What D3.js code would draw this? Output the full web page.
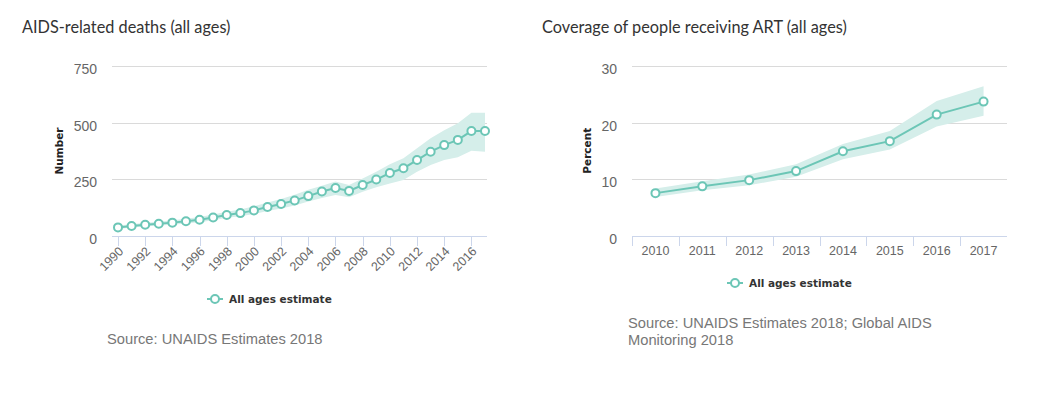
<!DOCTYPE html>
<html>
<head>
  <meta charset="utf-8">
  <title>AIDS-related deaths and ART coverage</title>
  <script src="https://d3js.org/d3.v7.min.js"></script>
  <style>
    body { margin: 0; background: #fff; }
    svg { display: block; }
  </style>
</head>
<body>
  <div id="chart"></div>
  <script type="text/javascript">
    // AIDS-related deaths (all ages)
    var deathYears = [1990, 1991, 1992, 1993, 1994, 1995, 1996, 1997, 1998, 1999,
      2000, 2001, 2002, 2003, 2004, 2005, 2006, 2007, 2008, 2009,
      2010, 2011, 2012, 2013, 2014, 2015, 2016, 2017];
    var deaths = [38, 44, 50, 54, 59, 65, 72, 82, 93, 101,
      113, 128, 141, 157, 176, 196, 212, 199, 225, 249,
      278, 299, 335, 372, 401, 424, 463, 463];
    var deathsLow = [31, 37, 42, 46, 50, 55, 61, 70, 80, 87,
      97, 110, 121, 135, 152, 168, 181, 171, 195, 215,
      232, 247, 284, 313, 335, 347, 376, 372];
    var deathsHigh = [46, 52, 58, 63, 69, 76, 84, 95, 107, 117,
      131, 148, 163, 182, 204, 222, 240, 225, 254, 284,
      316, 343, 387, 431, 467, 497, 544, 544];
    var deathTicks = [0, 250, 500, 750];
    var deathYearTicks = [1990, 1992, 1994, 1996, 1998, 2000, 2002, 2004,
      2006, 2008, 2010, 2012, 2014, 2016];

    // Coverage of people receiving ART (all ages)
    var artYears = ["2010", "2011", "2012", "2013", "2014", "2015", "2016", "2017"];
    var art = [7.5, 8.7, 9.8, 11.4, 14.9, 16.7, 21.4, 23.7];
    var artLow = [6.8, 8.0, 8.9, 10.4, 13.5, 15.2, 19.3, 21.2];
    var artHigh = [8.3, 9.6, 10.8, 12.6, 16.2, 18.5, 23.8, 26.4];
    var artTicks = [0, 10, 20, 30];

    var teal = "#6cc6b6";
    var bandFill = "#d5eeea";
    var grid = "#dadada";
    var axisCol = "#ccd6eb";
    var labelFont = "'Liberation Sans', Arial, sans-serif";
    var boldFont = "'DejaVu Sans', Verdana, sans-serif";

    var svg = d3.select("#chart").append("svg")
      .attr("width", 1053)
      .attr("height", 399);

    function drawChart(o) {
      var g = svg.append("g");

      g.append("text")
        .attr("x", o.titleX).attr("y", 33)
        .style("font-family", "Lato, sans-serif")
        .style("font-size", "16.3px")
        .style("fill", "#333")
        .text(o.title);

      // gridlines + y labels
      g.selectAll(".grid").data(o.yTicks.filter(function (d) { return d > 0; }))
        .enter().append("line")
        .attr("x1", o.left).attr("x2", o.right)
        .attr("y1", function (d) { return Math.round(o.y(d)) + 0.5; })
        .attr("y2", function (d) { return Math.round(o.y(d)) + 0.5; })
        .attr("stroke", grid).attr("stroke-width", 1);

      g.selectAll(".ylab").data(o.yTicks)
        .enter().append("text")
        .attr("x", o.left - 15)
        .attr("y", function (d) { return o.y(d) + 8; })
        .attr("text-anchor", "end")
        .style("font-family", labelFont)
        .style("font-size", "14px")
        .style("fill", "#666")
        .text(function (d) { return d; });

      g.append("text")
        .attr("transform", "translate(" + o.ytitleX + "," + ((o.y(0) + o.y(o.yTicks[o.yTicks.length - 1])) / 2) + ") rotate(-90)")
        .attr("text-anchor", "middle")
        .attr("dy", "0.35em")
        .style("font-family", boldFont)
        .style("font-weight", "bold")
        .style("font-size", "10.5px")
        .style("fill", "#222")
        .text(o.ytitle);

      // x axis line
      var y0 = Math.round(o.y(0)) + 0.5;
      g.append("line")
        .attr("x1", o.left).attr("x2", o.right)
        .attr("y1", y0).attr("y2", y0)
        .attr("stroke", axisCol).attr("stroke-width", 1);

      // band
      var area = d3.area()
        .x(function (d, i) { return o.px(i); })
        .y0(function (d, i) { return o.y(o.low[i]); })
        .y1(function (d, i) { return o.y(o.high[i]); });
      g.append("path")
        .datum(o.values)
        .attr("d", area)
        .attr("fill", bandFill);

      var line = d3.line()
        .x(function (d, i) { return o.px(i); })
        .y(function (d) { return o.y(d); });
      g.append("path")
        .datum(o.values)
        .attr("d", line)
        .attr("fill", "none")
        .attr("stroke", teal)
        .attr("stroke-width", 2);

      g.selectAll(".dot").data(o.values)
        .enter().append("circle")
        .attr("cx", function (d, i) { return o.px(i); })
        .attr("cy", function (d) { return o.y(d); })
        .attr("r", 4)
        .attr("fill", "#fff")
        .attr("stroke", teal)
        .attr("stroke-width", 2);

      // legend
      var lg = g.append("g").attr("transform", "translate(" + o.legendX + "," + o.legendY + ")");
      lg.append("line").attr("x1", 0).attr("x2", 16).attr("y1", 0).attr("y2", 0)
        .attr("stroke", teal).attr("stroke-width", 2);
      lg.append("circle").attr("cx", 8).attr("cy", 0).attr("r", 4)
        .attr("fill", "#fff").attr("stroke", teal).attr("stroke-width", 2);
      lg.append("text")
        .attr("x", 22).attr("y", 4)
        .style("font-family", boldFont)
        .style("font-weight", "bold")
        .style("font-size", "10.5px")
        .style("fill", "#333")
        .text("All ages estimate");

      // source
      g.selectAll(".src").data(o.source)
        .enter().append("text")
        .attr("x", o.sourceX)
        .attr("y", function (d, i) { return o.sourceY + i * 17; })
        .style("font-family", labelFont)
        .style("font-size", "14.7px")
        .style("fill", "#777")
        .text(function (d) { return d; });

      return g;
    }

    // ---- left chart
    var x1 = d3.scaleLinear().domain([1990, 2017]).range([118, 485]);
    var y1 = d3.scaleLinear().domain([0, 750]).range([236, 66]);
    var g1 = drawChart({
      title: "AIDS-related deaths (all ages)", titleX: 22,
      left: 112, right: 487, y: y1, yTicks: deathTicks,
      ytitle: "Number", ytitleX: 59,
      values: deaths, low: deathsLow, high: deathsHigh,
      px: function (i) { return x1(deathYears[i]); },
      legendX: 207, legendY: 299,
      source: ["Source: UNAIDS Estimates 2018"], sourceX: 107, sourceY: 344
    });
    g1.selectAll(".xtick").data(deathYearTicks)
      .enter().append("line")
      .attr("x1", function (d) { return Math.round(x1(d)) + 0.5; })
      .attr("x2", function (d) { return Math.round(x1(d)) + 0.5; })
      .attr("y1", 236).attr("y2", 246)
      .attr("stroke", axisCol);
    g1.selectAll(".xlab").data(deathYearTicks)
      .enter().append("text")
      .attr("transform", function (d) { return "translate(" + (x1(d) + 3) + ",249) rotate(-45)"; })
      .attr("text-anchor", "end")
      .attr("dy", "0.35em")
      .style("font-family", labelFont)
      .style("font-size", "12.5px")
      .style("fill", "#666")
      .text(function (d) { return d; });

    // ---- right chart
    var x2 = d3.scaleBand().domain(artYears).range([632, 1007]).padding(0);
    var y2 = d3.scaleLinear().domain([0, 30]).range([235.5, 66]);
    var g2 = drawChart({
      title: "Coverage of people receiving ART (all ages)", titleX: 542,
      left: 632, right: 1007, y: y2, yTicks: artTicks,
      ytitle: "Percent", ytitleX: 587,
      values: art, low: artLow, high: artHigh,
      px: function (i) { return x2(artYears[i]) + x2.bandwidth() / 2; },
      legendX: 727, legendY: 283,
      source: ["Source: UNAIDS Estimates 2018; Global AIDS", "Monitoring 2018"], sourceX: 628, sourceY: 328
    });
    g2.selectAll(".xtick").data(artYears)
      .enter().append("line")
      .attr("x1", function (d) { return Math.round(x2(d)) + 0.5; })
      .attr("x2", function (d) { return Math.round(x2(d)) + 0.5; })
      .attr("y1", 236).attr("y2", 246)
      .attr("stroke", axisCol);
    g2.selectAll(".xlab").data(artYears)
      .enter().append("text")
      .attr("x", function (d) { return x2(d) + x2.bandwidth() / 2; })
      .attr("y", 255)
      .attr("text-anchor", "middle")
      .style("font-family", labelFont)
      .style("font-size", "12.5px")
      .style("fill", "#666")
      .text(function (d) { return d; });
  </script>
</body>
</html>
